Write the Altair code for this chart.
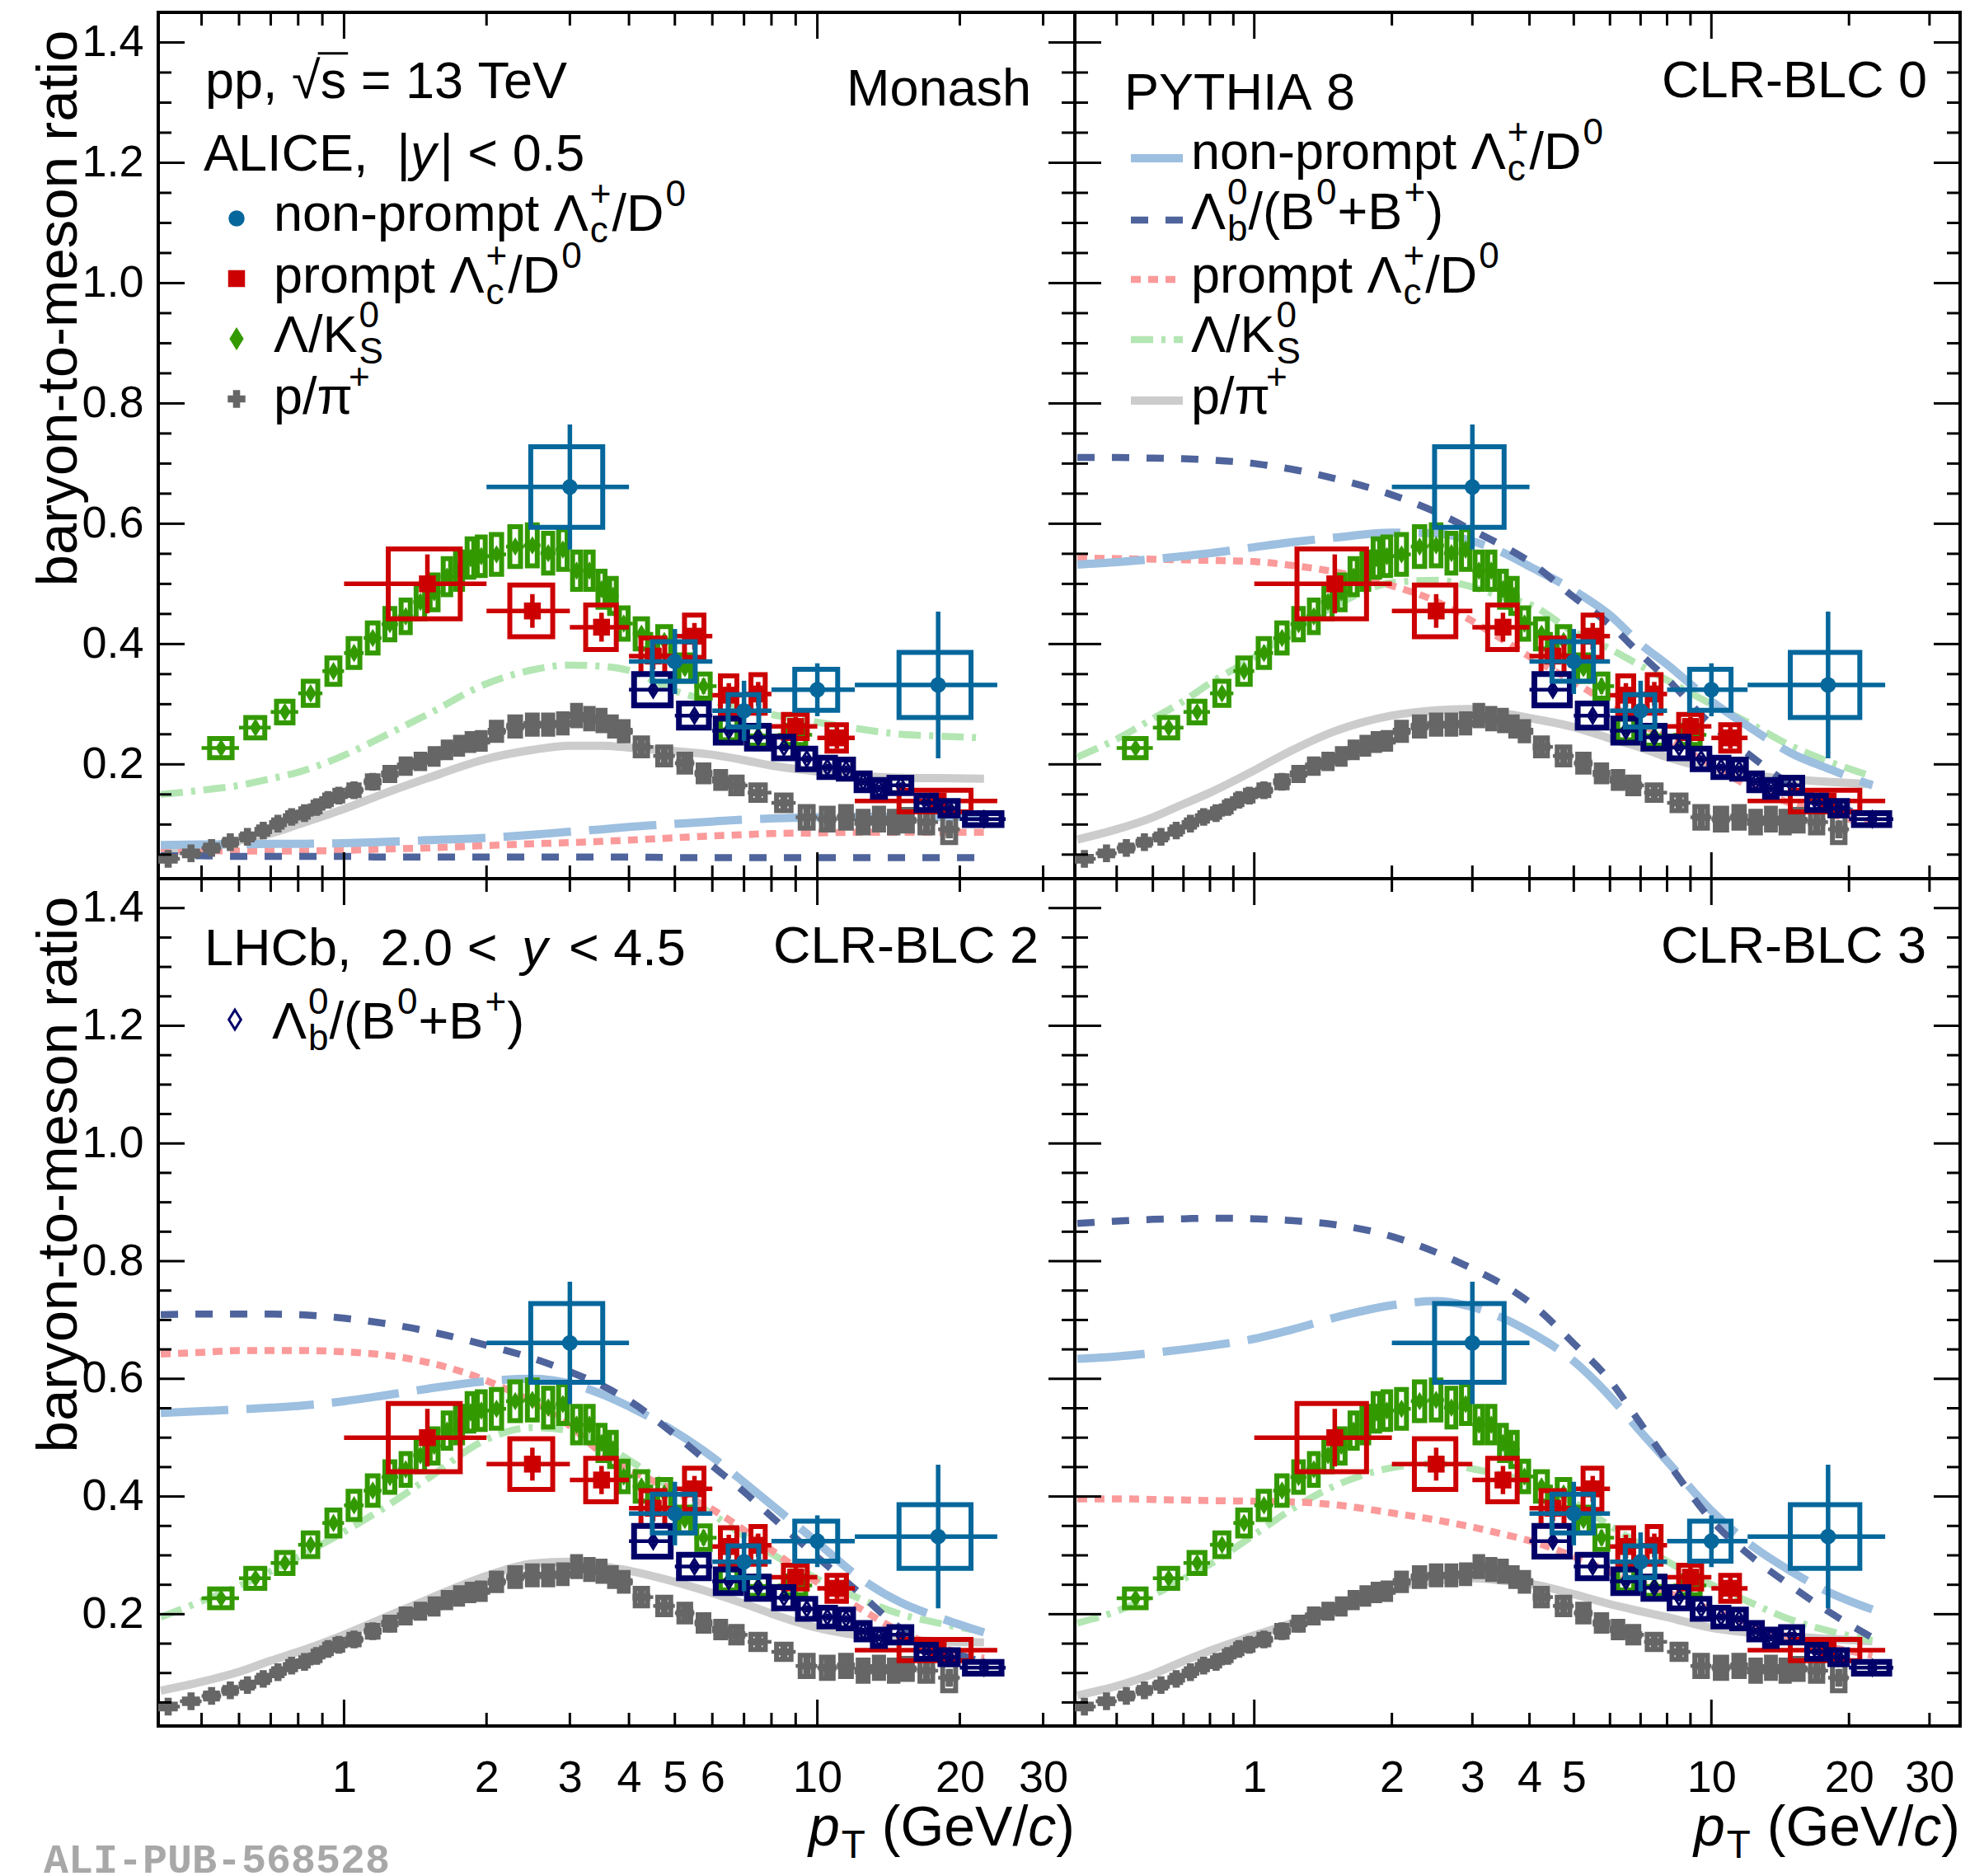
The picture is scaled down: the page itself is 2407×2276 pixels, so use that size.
import altair as alt
import pandas as pd

FONT = "Liberation Sans"
XDOM = [0.405, 35.0]
YDOM = [0.01, 1.45]
W_L, W_R = 1112, 1074
H_T, H_B = 1051, 1028
NB = "\u00a0"

# ---------------- colours ----------------
C_NP, C_PR, C_LK, C_PP, C_LB = "#05679b", "#cc0000", "#339900", "#666666", "#000068"
M_NP, M_LB, M_PR, M_LK, M_PP = "#9dbfe0", "#4f649c", "#fb9a9a", "#b3e6b3", "#cccccc"

# ---------------- ALICE non-prompt Lc/D0 ----------------
np_pt = [3, 5, 7, 10, 18]
np_lo = [2, 4, 6, 8, 12]
np_hi = [4, 6, 8, 12, 24]
np_val = [0.661, 0.371, 0.289, 0.324, 0.332]
np_stat = [0.104, 0.054, 0.050, 0.044, 0.122]
np_sys = [0.067, 0.033, 0.027, 0.034, 0.054]

# ---------------- ALICE prompt Lc/D0 ----------------
pr_pt = [1.5, 2.5, 3.5, 4.5, 5.5, 6.5, 7.5, 9, 11, 18]
pr_lo = [1, 2, 3, 4, 5, 6, 7, 8, 10, 12]
pr_hi = [2, 3, 4, 5, 6, 7, 8, 10, 12, 24]
pr_val = [0.500, 0.455, 0.428, 0.380, 0.413, 0.315, 0.317, 0.263, 0.244, 0.139]
pr_stat = [0.049, 0.028, 0.024, 0.022, 0.022, 0.020, 0.020, 0.016, 0.018, 0.012]
pr_sys = [0.058, 0.043, 0.037, 0.030, 0.035, 0.032, 0.032, 0.020, 0.022, 0.018]

# ---------------- ALICE Lambda/K0S ----------------
lk_pt = [0.55, 0.65, 0.75, 0.85, 0.95, 1.05, 1.15, 1.25, 1.35, 1.45, 1.55, 1.65, 1.75, 1.85, 1.95,
         2.1, 2.3, 2.5, 2.7, 2.9, 3.1, 3.3, 3.5, 3.7, 3.9, 4.25, 4.75, 5.25, 5.75, 6.5, 7.5, 9.0]
lk_val = [0.227, 0.261, 0.287, 0.318, 0.355, 0.385, 0.410, 0.433, 0.446, 0.470, 0.486, 0.512, 0.522, 0.543, 0.546,
          0.549, 0.562, 0.564, 0.551, 0.557, 0.522, 0.522, 0.491, 0.480, 0.434, 0.417, 0.405, 0.360, 0.330, 0.258, 0.248, 0.249]
lk_stat = [0.003, 0.003, 0.003, 0.003, 0.004, 0.004, 0.004, 0.004, 0.004, 0.005, 0.005, 0.005, 0.005, 0.006, 0.006,
           0.005, 0.006, 0.006, 0.007, 0.007, 0.008, 0.008, 0.009, 0.010, 0.010, 0.008, 0.010, 0.011, 0.013, 0.012, 0.015, 0.016]
lk_sys = [0.016, 0.017, 0.018, 0.020, 0.022, 0.024, 0.025, 0.026, 0.027, 0.028, 0.029, 0.030, 0.031, 0.032, 0.032,
          0.033, 0.033, 0.034, 0.033, 0.033, 0.031, 0.031, 0.030, 0.029, 0.026, 0.025, 0.024, 0.022, 0.020, 0.017, 0.016, 0.016]

# ---------------- ALICE p/pi+ ----------------
pp_pt = [0.425, 0.475, 0.525, 0.575, 0.625, 0.675, 0.725, 0.775, 0.825, 0.875, 0.925, 0.975,
         1.05, 1.15, 1.25, 1.35, 1.45, 1.55, 1.65, 1.75, 1.85, 1.95,
         2.1, 2.3, 2.5, 2.7, 2.9, 3.1, 3.3, 3.5, 3.7, 3.9,
         4.25, 4.75, 5.25, 5.75, 6.25, 6.75,
         7.5, 8.5, 9.5, 10.5, 11.5, 12.5, 13.5, 14.5, 15.5, 17, 19]
pp_val = [0.043, 0.052, 0.061, 0.0705, 0.0795, 0.090, 0.1015, 0.1126, 0.119, 0.129, 0.141, 0.148,
          0.157, 0.171, 0.184, 0.197, 0.205, 0.213, 0.224, 0.231, 0.237, 0.239,
          0.255, 0.263, 0.266, 0.266, 0.268, 0.281, 0.276, 0.273, 0.263, 0.255,
          0.229, 0.214, 0.202, 0.185, 0.174, 0.165,
          0.153, 0.136, 0.112, 0.109, 0.112, 0.104, 0.109, 0.104, 0.107, 0.104, 0.092]
pp_stat = [0.002, 0.002, 0.002, 0.002, 0.002, 0.002, 0.002, 0.002, 0.002, 0.003, 0.003, 0.003,
           0.003, 0.003, 0.003, 0.003, 0.003, 0.003, 0.003, 0.003, 0.003, 0.003,
           0.003, 0.003, 0.003, 0.003, 0.003, 0.004, 0.004, 0.004, 0.004, 0.004,
           0.003, 0.003, 0.003, 0.004, 0.004, 0.004,
           0.004, 0.005, 0.006, 0.007, 0.008, 0.009, 0.010, 0.011, 0.012, 0.010, 0.015]
pp_sys = [0.004, 0.004, 0.005, 0.005, 0.005, 0.006, 0.006, 0.007, 0.007, 0.008, 0.008, 0.009,
          0.009, 0.010, 0.011, 0.012, 0.012, 0.013, 0.013, 0.014, 0.014, 0.014,
          0.015, 0.016, 0.016, 0.016, 0.016, 0.017, 0.017, 0.017, 0.016, 0.016,
          0.015, 0.015, 0.015, 0.014, 0.014, 0.014,
          0.013, 0.013, 0.018, 0.018, 0.018, 0.018, 0.018, 0.018, 0.018, 0.018, 0.022]

# ---------------- LHCb Lambda_b / (B0+B+) ----------------
lb_pt = [4.5, 5.5, 6.5, 7.5, 8.5, 9.5, 10.5, 11.5, 12.5, 13.5, 15, 17, 19, 22.5]
lb_lo = [4, 5, 6, 7, 8, 9, 10, 11, 12, 13, 14, 16, 18, 20]
lb_hi = [5, 6, 7, 8, 9, 10, 11, 12, 13, 14, 16, 18, 20, 25]
lb_val = [0.324, 0.281, 0.256, 0.245, 0.228, 0.209, 0.195, 0.192, 0.171, 0.160, 0.165, 0.136, 0.127, 0.109]
lb_stat = [0.010, 0.008, 0.007, 0.007, 0.006, 0.006, 0.006, 0.006, 0.006, 0.006, 0.005, 0.006, 0.007, 0.006]
lb_sys = [0.026, 0.020, 0.020, 0.019, 0.018, 0.017, 0.016, 0.016, 0.014, 0.014, 0.013, 0.012, 0.012, 0.010]

# ---------------- PYTHIA 8 curves ----------------
mod_pt = [0.41, 0.5, 0.6, 0.7, 0.8, 1.0, 1.2, 1.5, 2.0, 2.5, 3.0, 3.5, 4.0, 5.0, 6.0, 7.0, 8.0, 10, 12, 15, 18, 22.5]
# Monash
mon_np = [0.066, 0.067, 0.067, 0.068, 0.068, 0.069, 0.071, 0.074, 0.078, 0.083, 0.088, 0.092, 0.096, 0.101, 0.105, 0.108, 0.110, 0.112, 0.113, 0.113, 0.113, 0.112]
mon_lb = [0.048, 0.048, 0.047, 0.047, 0.047, 0.047, 0.046, 0.046, 0.046, 0.046, 0.046, 0.046, 0.046, 0.045, 0.045, 0.045, 0.045, 0.045, 0.045, 0.045, 0.045, 0.045]
mon_pr = [0.0585, 0.057, 0.056, 0.056, 0.056, 0.057, 0.059, 0.061, 0.065, 0.068, 0.070, 0.072, 0.074, 0.078, 0.081, 0.083, 0.085, 0.086, 0.087, 0.087, 0.087, 0.087]
mon_lk = [0.150, 0.157, 0.165, 0.176, 0.187, 0.215, 0.245, 0.283, 0.334, 0.357, 0.365, 0.363, 0.356, 0.322, 0.305, 0.293, 0.283, 0.270, 0.260, 0.250, 0.247, 0.244]
mon_pp = [0.052, 0.062, 0.073, 0.085, 0.100, 0.126, 0.150, 0.177, 0.209, 0.224, 0.231, 0.231, 0.228, 0.222, 0.216, 0.207, 0.198, 0.188, 0.181, 0.178, 0.177, 0.176]
# CLR-BLC 0
b0_np = [0.532, 0.536, 0.541, 0.546, 0.551, 0.561, 0.569, 0.577, 0.585, 0.584, 0.571, 0.552, 0.529, 0.489, 0.448, 0.400, 0.366, 0.305, 0.264, 0.218, 0.193, 0.165]
b0_lb = [0.710, 0.710, 0.709, 0.708, 0.706, 0.700, 0.691, 0.675, 0.648, 0.619, 0.589, 0.563, 0.537, 0.478, 0.432, 0.383, 0.342, 0.266, 0.218, 0.165, 0.137, 0.110]
b0_pr = [0.543, 0.542, 0.541, 0.540, 0.539, 0.537, 0.531, 0.520, 0.497, 0.471, 0.438, 0.407, 0.379, 0.337, 0.300, 0.268, 0.242, 0.199, 0.165, 0.135, 0.118, 0.100]
b0_lk = [0.212, 0.242, 0.276, 0.305, 0.335, 0.378, 0.420, 0.463, 0.502, 0.506, 0.495, 0.478, 0.466, 0.420, 0.392, 0.364, 0.340, 0.300, 0.270, 0.230, 0.205, 0.180]
b0_pp = [0.075, 0.092, 0.112, 0.134, 0.153, 0.190, 0.222, 0.255, 0.281, 0.290, 0.292, 0.285, 0.277, 0.262, 0.243, 0.228, 0.212, 0.193, 0.183, 0.175, 0.171, 0.167]
# CLR-BLC 2
b2_np = [0.542, 0.545, 0.548, 0.551, 0.554, 0.562, 0.571, 0.583, 0.596, 0.600, 0.592, 0.574, 0.553, 0.510, 0.467, 0.424, 0.386, 0.322, 0.268, 0.220, 0.195, 0.169]
b2_lb = [0.709, 0.710, 0.710, 0.710, 0.709, 0.703, 0.695, 0.681, 0.657, 0.635, 0.612, 0.589, 0.563, 0.505, 0.452, 0.408, 0.366, 0.297, 0.243, 0.176, 0.145, 0.118]
b2_pr = [0.642, 0.645, 0.648, 0.648, 0.648, 0.646, 0.641, 0.628, 0.597, 0.560, 0.520, 0.474, 0.446, 0.410, 0.378, 0.343, 0.309, 0.254, 0.215, 0.170, 0.145, 0.125]
b2_lk = [0.195, 0.222, 0.248, 0.273, 0.297, 0.340, 0.378, 0.430, 0.497, 0.517, 0.512, 0.490, 0.462, 0.410, 0.370, 0.333, 0.303, 0.260, 0.230, 0.200, 0.185, 0.170]
b2_pp = [0.070, 0.085, 0.102, 0.121, 0.136, 0.165, 0.192, 0.225, 0.265, 0.286, 0.289, 0.282, 0.274, 0.255, 0.236, 0.218, 0.201, 0.177, 0.165, 0.157, 0.154, 0.152]
# CLR-BLC 3
b3_np = [0.634, 0.638, 0.644, 0.650, 0.656, 0.668, 0.683, 0.704, 0.725, 0.732, 0.722, 0.703, 0.680, 0.630, 0.570, 0.510, 0.460, 0.376, 0.322, 0.272, 0.238, 0.208]
b3_lb = [0.864, 0.868, 0.871, 0.872, 0.873, 0.872, 0.869, 0.862, 0.842, 0.815, 0.787, 0.760, 0.730, 0.660, 0.597, 0.524, 0.460, 0.360, 0.303, 0.247, 0.205, 0.160]
b3_pr = [0.396, 0.396, 0.395, 0.394, 0.393, 0.392, 0.391, 0.386, 0.372, 0.360, 0.348, 0.336, 0.325, 0.298, 0.272, 0.253, 0.237, 0.208, 0.185, 0.160, 0.145, 0.130]
b3_lk = [0.185, 0.205, 0.232, 0.260, 0.285, 0.335, 0.377, 0.418, 0.449, 0.456, 0.447, 0.436, 0.425, 0.390, 0.350, 0.318, 0.290, 0.250, 0.222, 0.190, 0.172, 0.155]
b3_pp = [0.062, 0.078, 0.098, 0.120, 0.138, 0.164, 0.184, 0.213, 0.246, 0.257, 0.261, 0.257, 0.252, 0.234, 0.217, 0.205, 0.195, 0.177, 0.169, 0.162, 0.158, 0.154]

# ---------------- axis ticks ----------------
x_major = [1, 10]
x_minor = [0.5, 0.6, 0.7, 0.8, 0.9, 2, 3, 4, 5, 6, 7, 8, 9, 20, 30]
y_major = [0.2, 0.4, 0.6, 0.8, 1.0, 1.2, 1.4]
y_minor = [0.05, 0.1, 0.15, 0.25, 0.3, 0.35, 0.45, 0.5, 0.55, 0.65, 0.7, 0.75, 0.85, 0.9, 0.95,
           1.05, 1.1, 1.15, 1.25, 1.3, 1.35]
xlab_left = [1, 2, 3, 4, 5, 6, 10, 20, 30]
xlab_right = [1, 2, 3, 4, 5, 10, 20, 30]

# ---------------- text helpers (Arial / Liberation Sans metrics) ----------------
CW = {' ': .278, '(': .333, ')': .333, '+': .584, ',': .278, '-': .333, '.': .278, '/': .278,
      '<': .584, '=': .584, '|': .26, 'A': .667, 'B': .667, 'C': .722, 'D': .722, 'E': .667,
      'G': .778, 'H': .722, 'I': .278, 'K': .667, 'L': .556, 'M': .833, 'P': .667, 'R': .722,
      'S': .667, 'T': .611, 'V': .667, 'Y': .667, 'a': .556, 'b': .556, 'c': .5, 'e': .556,
      'h': .556, 'i': .222, 'm': .833, 'n': .556, 'o': .556, 'p': .556, 'r': .333, 's': .5,
      't': .278, 'y': .5, 'Λ': .667, 'π': .58, '√': .549}
for _d in "0123456789":
    CW[_d] = .556


def tw(s, fs):
    return sum(CW.get(ch, .556) for ch in s) * fs


def piece(s, dx, dy, fs, it):
    # strip outer blanks (they would be trimmed when drawn) but keep their advance
    lead = len(s) - len(s.lstrip(" "))
    core = s.strip(" ")
    return (core.replace(" ", NB), dx + lead * CW[" "] * fs, dy, fs, it)


def rich(segs, x, y, fs, align="left"):
    out = []
    cx = 0.0
    s2 = fs * 0.7
    for seg in segs:
        k = seg[0]
        if k == "gap":
            cx += seg[1]
        elif k in ("n", "i"):
            out.append(piece(seg[1], cx, 0.0, fs, k == "i"))
            cx += tw(seg[1], fs)
        elif k == "sup":
            out.append(piece(seg[1], cx + 2, -0.47 * fs, s2, False))
            cx += tw(seg[1], s2) + 3
        elif k == "sub":
            out.append(piece(seg[1], cx + 2, 0.22 * fs, s2, False))
            cx += tw(seg[1], s2) + 3
        elif k == "ss":
            out.append(piece(seg[1], cx + 2, 0.22 * fs, s2, False))
            out.append(piece(seg[2], cx + 2, -0.47 * fs, s2, False))
            cx += max(tw(seg[1], s2), tw(seg[2], s2)) + 3
    off = -cx if align == "right" else 0.0
    return [dict(t=t, px=x + dx + off, py=y + dy, fs=s, it=it) for (t, dx, dy, s, it) in out if t]


FS = 63
SEG_NP = [("n", "non-prompt Λ"), ("ss", "c", "+"), ("n", "/D"), ("sup", "0")]
SEG_PR = [("n", "prompt Λ"), ("ss", "c", "+"), ("n", "/D"), ("sup", "0")]
SEG_LK = [("n", "Λ/K"), ("ss", "S", "0")]
SEG_PP = [("n", "p/π"), ("sup", "+")]
SEG_LB = [("n", "Λ"), ("ss", "b", "0"), ("n", "/(B"), ("sup", "0"), ("n", "+B"), ("sup", "+"), ("n", ")")]
SEG_PT = [("i", "p"), ("sub", "T"), ("n", " (GeV/"), ("i", "c"), ("n", ")")]


def text_layers(rows):
    layers = []
    for it in (False, True):
        sub = [r for r in rows if r["it"] == it]
        if not sub:
            continue
        df = pd.DataFrame(sub)
        layers.append(
            alt.Chart(df).mark_text(align="left", baseline="alphabetic", font=FONT,
                                    fontStyle="italic" if it else "normal", color="black")
            .encode(x=alt.X("px:Q", scale=None, axis=None), y=alt.Y("py:Q", scale=None, axis=None),
                    text="t:N", size=alt.Size("fs:Q", scale=None, legend=None)))
    return layers


def pix_point(px, py, **kw):
    df = pd.DataFrame({"px": [px], "py": [py]})
    return alt.Chart(df).mark_point(opacity=1, **kw).encode(
        x=alt.X("px:Q", scale=None, axis=None), y=alt.Y("py:Q", scale=None, axis=None))


def bins_from_centres(c):
    lo, hi = [], []
    for i in range(len(c)):
        lo.append((c[i] + c[i - 1]) / 2 if i > 0 else c[0] - (c[1] - c[0]) / 2)
        hi.append((c[i] + c[i + 1]) / 2 if i < len(c) - 1 else c[i] + (c[i] - c[i - 1]) / 2)
    return lo, hi


def err_df(pt, lo, hi, val, stat, sys, frac):
    rows = []
    for i in range(len(pt)):
        bw = frac * (hi[i] - lo[i])
        rows.append(dict(x=pt[i], lo=lo[i], hi=hi[i], y=val[i], ylo=val[i] - stat[i], yhi=val[i] + stat[i],
                         bx0=pt[i] - bw, bx1=pt[i] + bw, by0=val[i] - sys[i], by1=val[i] + sys[i]))
    return pd.DataFrame(rows)


lk_lo, lk_hi = bins_from_centres(lk_pt)
pp_lo, pp_hi = bins_from_centres(pp_pt)

DF_NP = err_df(np_pt, np_lo, np_hi, np_val, np_stat, np_sys, 0.26)
DF_PR = err_df(pr_pt, pr_lo, pr_hi, pr_val, pr_stat, pr_sys, 0.26)
DF_LK = err_df(lk_pt, lk_lo, lk_hi, lk_val, lk_stat, lk_sys, 0.30)
DF_PP = err_df(pp_pt, pp_lo, pp_hi, pp_val, pp_stat, pp_sys, 0.30)
DF_LB = err_df(lb_pt, lb_lo, lb_hi, lb_val, lb_stat, lb_sys, 0.40)

DIAMOND = "M0,-1L0.62,0L0,1L-0.62,0Z"

SERIES = [
    (DF_PP, C_PP, dict(shape="cross", filled=True, size=460), 6, 4.5),
    (DF_LK, C_LK, dict(shape=DIAMOND, filled=True, size=500), 6, 4.5),
    (DF_PR, C_PR, dict(shape="square", filled=True, size=420), 6, 5.5),
    (DF_LB, C_LB, dict(shape=DIAMOND, filled=False, size=330, strokeWidth=3), 7, 4.5),
    (DF_NP, C_NP, dict(shape="circle", filled=True, size=360), 6, 5.5),
]

MODEL_STYLE = [
    ("pp", M_PP, 10, None),
    ("lk", M_LK, 8.5, [27, 10, 5, 10]),
    ("pr", M_PR, 8.5, [12, 9]),
    ("np", M_NP, 10, [82, 22]),
    ("lb", M_LB, 8.5, [21, 21]),
]


def panel(w, h, models, xaxis, yaxis, rows, extra):
    xs = alt.Scale(type="log", domain=XDOM, nice=False)
    ys = alt.Scale(domain=YDOM, nice=False, zero=False)

    def X(f):
        return alt.X(f, type="quantitative", scale=xs, axis=xaxis)

    def Y(f):
        return alt.Y(f, type="quantitative", scale=ys, axis=yaxis)

    layers = []
    for key, col, sw, dash in MODEL_STYLE:
        df = pd.DataFrame({"pt": mod_pt, "v": models[key]})
        kw = dict(color=col, strokeWidth=sw, interpolate="monotone", clip=True)
        if dash:
            kw["strokeDash"] = dash
        layers.append(alt.Chart(df).mark_line(**kw).encode(x=X("pt"), y=Y("v")))

    for df, col, mk, bsw, esw in SERIES:
        base = alt.Chart(df)
        layers.append(base.mark_rect(filled=False, stroke=col, strokeWidth=bsw, clip=True)
                      .encode(x=X("bx0"), x2="bx1", y=Y("by0"), y2="by1"))
        layers.append(base.mark_rule(color=col, strokeWidth=esw, clip=True)
                      .encode(x=X("lo"), x2="hi", y=Y("y")))
        layers.append(base.mark_rule(color=col, strokeWidth=esw, clip=True)
                      .encode(x=X("x"), y=Y("ylo"), y2="yhi"))
        layers.append(base.mark_point(color=col, opacity=1, clip=True, **mk).encode(x=X("x"), y=Y("y")))

    # inward ticks on all four sides
    for vals, ln in ((x_major, 32), (x_minor, 16)):
        dft = pd.DataFrame({"t": vals})
        layers.append(alt.Chart(dft).mark_rule(color="black", strokeWidth=3)
                      .encode(x=X("t"), y=alt.value(h), y2=alt.value(h - ln)))
        layers.append(alt.Chart(dft).mark_rule(color="black", strokeWidth=3)
                      .encode(x=X("t"), y=alt.value(0), y2=alt.value(ln)))
    for vals, ln in ((y_major, 32), (y_minor, 16)):
        dft = pd.DataFrame({"t": vals})
        layers.append(alt.Chart(dft).mark_rule(color="black", strokeWidth=3)
                      .encode(y=Y("t"), x=alt.value(0), x2=alt.value(ln)))
        layers.append(alt.Chart(dft).mark_rule(color="black", strokeWidth=3)
                      .encode(y=Y("t"), x=alt.value(w), x2=alt.value(w - ln)))

    layers += extra
    layers += text_layers(rows)
    return alt.layer(*layers).properties(width=w, height=h)


YAXIS = alt.Axis(values=y_major, format=".1f", labelFontSize=54, labelFont=FONT, labelPadding=18,
                 labelColor="black", ticks=False, tickSize=0, domain=False, grid=False,
                 title="baryon-to-meson ratio", titleFont=FONT, titleFontSize=69, titleFontWeight="normal",
                 titleColor="black", titleAngle=270, titleAlign="right", titleBaseline="alphabetic",
                 titleX=-100, titleY=21)


def xaxis_for(vals):
    return alt.Axis(values=vals, format="d", labelFontSize=54, labelFont=FONT, labelPadding=36,
                    labelColor="black", ticks=False, tickSize=0, domain=False, grid=False, title=None,
                    labelFlush=False, labelOverlap=False)


def legend_line(x0, x1, y, col, sw, dash):
    kw = dict(color=col, strokeWidth=sw)
    if dash:
        kw["strokeDash"] = dash
    return alt.Chart(pd.DataFrame({"a": [0]})).mark_rule(**kw).encode(
        x=alt.value(x0), x2=alt.value(x1), y=alt.value(y))


# ---------------- top-left: Monash ----------------
tl_rows = []
tl_rows += rich([("n", "pp, √s = 13 TeV")], 57, 104, FS)
tl_rows += rich([("n", "ALICE,  |"), ("i", "y"), ("gap", 4), ("n", "| < 0.5")], 55, 192, FS)
tl_rows += rich([("n", "Monash")], 1059, 113, FS, align="right")
tl_rows += rich(SEG_NP, 140, 265, FS)
tl_rows += rich(SEG_PR, 140, 340, FS)
tl_rows += rich(SEG_LK, 140, 412, FS)
tl_rows += rich(SEG_PP, 140, 487, FS)
sx0 = 57 + tw("pp, √", FS)
tl_extra = [
    legend_line(sx0 - 3, sx0 + tw("s", FS) + 2, 104 - 0.86 * FS, "black", 3, None),
    pix_point(95, 250, shape="circle", filled=True, size=380, color=C_NP),
    pix_point(95, 323, shape="square", filled=True, size=420, color=C_PR),
    pix_point(95, 396, shape=DIAMOND, filled=True, size=784, color=C_LK),
    pix_point(95, 469, shape="cross", filled=True, size=460, color=C_PP),
]
TL = panel(W_L, H_T, dict(np=mon_np, lb=mon_lb, pr=mon_pr, lk=mon_lk, pp=mon_pp),
           None, YAXIS, tl_rows, tl_extra)

# ---------------- top-right: CLR-BLC 0 ----------------
tr_rows = []
tr_rows += rich([("n", "PYTHIA 8")], 60, 118, FS)
tr_rows += rich([("n", "CLR-BLC 0")], 1034, 103, FS, align="right")
tr_rows += rich(SEG_NP, 141, 190, FS)
tr_rows += rich(SEG_LB, 141, 263, FS)
tr_rows += rich(SEG_PR, 141, 340, FS)
tr_rows += rich(SEG_LK, 141, 412, FS)
tr_rows += rich(SEG_PP, 141, 487, FS)
tr_extra = [
    legend_line(68, 131, 177, M_NP, 10, None),
    legend_line(68, 131, 252, M_LB, 8.5, [21, 21]),
    legend_line(68, 131, 324, M_PR, 8.5, [12, 9]),
    legend_line(68, 131, 397, M_LK, 8.5, [27, 10, 5, 10]),
    legend_line(68, 131, 471, M_PP, 10, None),
]
TR = panel(W_R, H_T, dict(np=b0_np, lb=b0_lb, pr=b0_pr, lk=b0_lk, pp=b0_pp),
           None, None, tr_rows, tr_extra)

# ---------------- bottom-left: CLR-BLC 2 ----------------
bl_rows = []
bl_rows += rich([("n", "LHCb,  2.0 < "), ("gap", 12), ("i", "y"), ("gap", 8), ("n", " < 4.5")], 56, 105, FS)
bl_rows += rich([("n", "CLR-BLC 2")], 1068, 102, FS, align="right")
bl_rows += rich(SEG_LB, 138, 194, FS)
bl_rows += rich(SEG_PT, W_L, H_B + 145, 68, align="right")
bl_extra = [
    pix_point(93, 171, shape=DIAMOND, filled=False, size=560, color=C_LB, strokeWidth=3),
    alt.Chart(pd.DataFrame({"px": [-139], "py": [H_B + 178], "t": ["ALI-PUB-568528"]}))
    .mark_text(align="left", baseline="alphabetic", font="Liberation Mono", fontWeight="bold",
               fontSize=50, color="#a8a8a8")
    .encode(x=alt.X("px:Q", scale=None, axis=None), y=alt.Y("py:Q", scale=None, axis=None), text="t:N"),
]
BL = panel(W_L, H_B, dict(np=b2_np, lb=b2_lb, pr=b2_pr, lk=b2_lk, pp=b2_pp),
           xaxis_for(xlab_left), YAXIS, bl_rows, bl_extra)

# ---------------- bottom-right: CLR-BLC 3 ----------------
br_rows = []
br_rows += rich([("n", "CLR-BLC 3")], 1033, 102, FS, align="right")
br_rows += rich(SEG_PT, W_R, H_B + 145, 68, align="right")
BR = panel(W_R, H_B, dict(np=b3_np, lb=b3_lb, pr=b3_pr, lk=b3_lk, pp=b3_pp),
           xaxis_for(xlab_right), None, br_rows, [])

chart = (alt.concat(TL, TR, BL, BR, columns=2, spacing=0, bounds="flush", align="each")
         .properties(padding={"left": 27, "top": 3, "right": 5, "bottom": 5}, background="white")
         .configure_view(stroke="black", strokeWidth=4)
         .configure_axis(labelFont=FONT, titleFont=FONT))

chart.save("out.html", embed_options={"renderer": "svg", "actions": False})
